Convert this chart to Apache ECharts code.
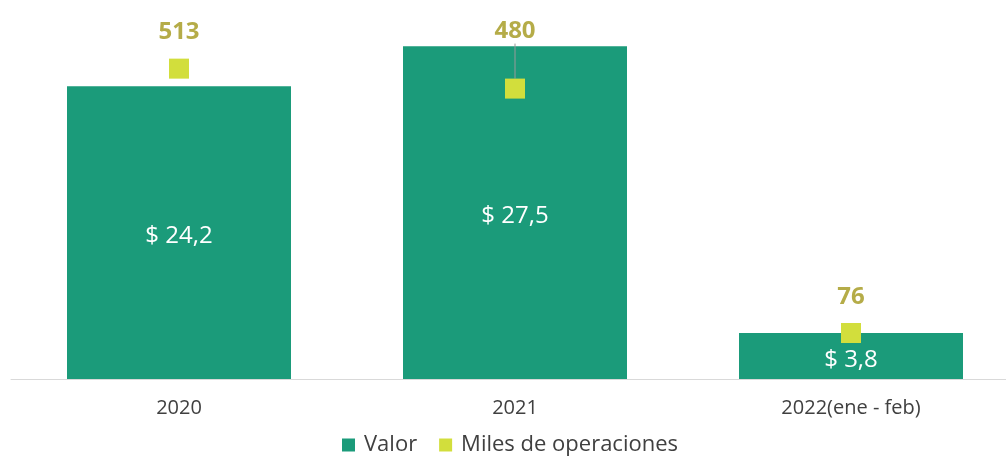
<!DOCTYPE html>
<html>
<head>
<meta charset="utf-8">
<script src="https://cdn.jsdelivr.net/npm/echarts@6/dist/echarts.min.js"></script>
<style>
html,body{margin:0;padding:0;background:#fff;overflow:hidden;}
#main{width:1020px;height:457px;}
</style>
</head>
<body>
<div id="main"></div>
<script>
var categories = ["2020", "2021", "2022(ene - feb)"];
var valor = [24.2, 27.5, 3.8];
var operaciones = [513, 480, 76];

var chart = echarts.init(document.getElementById("main"));
var opsData = operaciones.map(function(v, i){
	return { value: v, labelLine: { show: i == 1 } };
});
var option = {
	animation: false,
	textStyle: { fontFamily: "'Open Sans', sans-serif" },
	grid: { left: 11, top: 16, width: 1008, bottom: 78 },
	legend: {
		bottom: -4,
		left: 337,
		itemWidth: 13,
		itemHeight: 13,
		itemGap: 22,
		textStyle: { fontSize: 22, color: "#404040", padding: [0, 0, 0, 4] },
		data: [
			{ name: "Valor", icon: "rect" },
			{ name: "Miles de operaciones", icon: "rect" }
		]
	},
	xAxis: {
		type: "category",
		data: categories,
		axisTick: { show: false },
		axisLine: { lineStyle: { color: "#d9d9d9" } },
		axisLabel: { fontSize: 20, color: "#404040", margin: 19 }
	},
	yAxis: [
		{ type: "value", min: 0, max: 30, show: false, splitLine: { show: false } },
		{ type: "value", min: 0, max: 600, show: false, splitLine: { show: false } }
	],
	series: [
		{
			name: "Valor",
			type: "bar",
			data: valor,
			barWidth: 224,
			itemStyle: { color: "#1b9b7a" },
			label: {
				show: true,
				position: "inside",
				offset: [0, 4],
				color: "#fff",
				fontSize: 24,
				formatter: function(p){ return "$ " + String(p.value).replace(".", ","); }
			}
		},
		{
			name: "Miles de operaciones",
			type: "scatter",
			yAxisIndex: 1,
			data: opsData,
			symbol: "rect",
			symbolSize: 20,
			itemStyle: { color: "#d2de3c", opacity: 1 },
			label: {
				show: true,
				position: "top",
				distance: 14,
				color: "#b5ac48",
				fontSize: 24,
				fontWeight: "bold"
			},
			labelLine: { lineStyle: { color: "#999", width: 1 } },
			labelLayout: function(p){
				if(p.dataIndex == 1){
					return { dy: -21 };
				}
				return {};
			}
		}
	]
};
chart.setOption(option);
</script>
</body>
</html>
